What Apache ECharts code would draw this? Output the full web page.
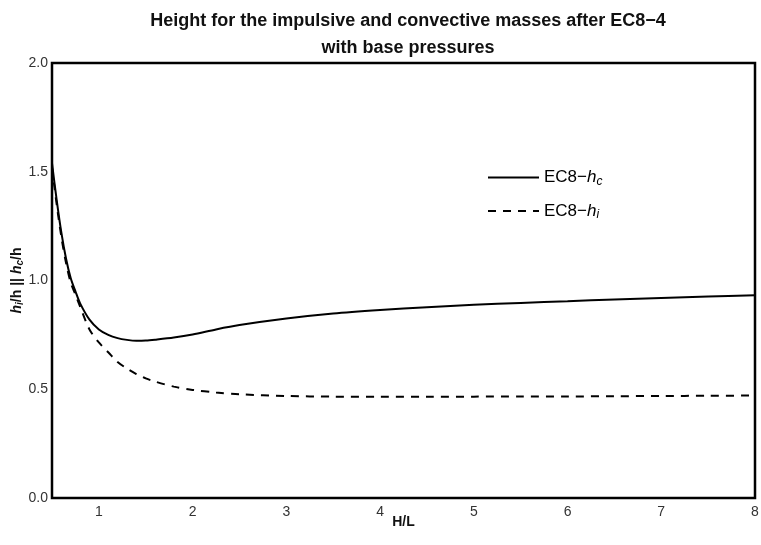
<!DOCTYPE html>
<html>
<head>
<meta charset="utf-8">
<script src="https://cdn.jsdelivr.net/npm/echarts@6/dist/echarts.min.js"></script>
<style>html,body{margin:0;padding:0;background:#fff}#c{width:761px;height:545px}</style>
</head>
<body>
<div id="c"></div>
<script>
const xValues = [0.5,0.55,0.6,0.65,0.7,0.75,0.8,0.9,1.0,1.1,1.2,1.3,1.4,1.5,1.6,1.8,2.0,2.25,2.5,3.0,3.5,4.0,4.5,5.0,5.5,6.0,6.5,7.0,7.5,8.0];
const hcValues = [1.54,1.37,1.22,1.10,1.01,0.95,0.895,0.82,0.775,0.75,0.735,0.727,0.723,0.724,0.728,0.738,0.752,0.775,0.795,0.825,0.848,0.864,0.877,0.888,0.897,0.905,0.913,0.92,0.926,0.932];
const hiValues = [1.52,1.35,1.20,1.08,0.99,0.935,0.88,0.775,0.715,0.67,0.625,0.595,0.57,0.55,0.535,0.512,0.497,0.485,0.477,0.469,0.466,0.465,0.465,0.466,0.467,0.467,0.468,0.469,0.47,0.471];
const xTickLabels = [1,2,3,4,5,6,7,8];
const yTickLabels = [0,0.5,1.0,1.5,2.0];
const seriesNames = ['EC8-hc','EC8-hi'];

const chart = echarts.init(document.getElementById('c'), null, {renderer:'canvas'});
const font = 'Liberation Sans, Arial, sans-serif';
chart.setOption({
  animation: false,
  textStyle: {fontFamily: font},
  title: {
    text: 'Height for the impulsive and convective masses after EC8\u22124\nwith base pressures',
    left: 403, textAlign: 'center', top: 3,
    textStyle: {fontFamily: font, fontSize: 18, fontWeight: 'bold', color: '#111', lineHeight: 27}
  },
  grid: {left: 52, right: 6, top: 63, bottom: 47, show: true, borderColor: '#000', borderWidth: 2.5,
         containLabel: false, outerBoundsMode: 'none'},
  legend: {
    orient: 'vertical', left: 482, top: 164, itemWidth: 51, itemHeight: 16, itemGap: 15,
    data: seriesNames,
    itemStyle: {opacity: 0},
    formatter: function(n){ return n === 'EC8-hc' ? '{t|EC8\u2212}{i|h}{s|c}' : '{t|EC8\u2212}{i|h}{s|i}'; },
    textStyle: {
      color: '#000', fontSize: 17, fontFamily: font,
      rich: {
        t: {fontSize: 17, fontFamily: font, color: '#000'},
        i: {fontSize: 17, fontFamily: font, fontStyle: 'italic', color: '#000'},
        s: {fontSize: 12, fontFamily: font, fontStyle: 'italic', color: '#000', verticalAlign: 'bottom', padding: [8,0,0,0]}
      }
    }
  },
  xAxis: {
    type: 'value', min: 0.5, max: 8,
    name: 'H/L', nameLocation: 'middle', nameGap: 17, nameMoveOverlap: false,
    nameTextStyle: {fontFamily: font, fontSize: 14, fontWeight: 'bold', color: '#111'},
    axisLine: {show: false}, axisTick: {show: false}, splitLine: {show: false},
    axisLabel: {customValues: xTickLabels, color: '#333', fontSize: 14, margin: 7, fontFamily: font}
  },
  yAxis: {
    type: 'value', min: 0, max: 2, interval: 0.5,
    name: '{i|h}{s|i}{b|/h || }{i|h}{s|c}{b|/h}', nameLocation: 'middle', nameGap: 27, nameMoveOverlap: false,
    nameTextStyle: {
      fontFamily: font, fontSize: 14, fontWeight: 'bold', color: '#111',
      rich: {
        i: {fontFamily: font, fontSize: 14, fontWeight: 'bold', fontStyle: 'italic', color: '#111'},
        b: {fontFamily: font, fontSize: 14, fontWeight: 'bold', color: '#111'},
        s: {fontFamily: font, fontSize: 10, fontWeight: 'bold', fontStyle: 'italic', color: '#111', verticalAlign: 'bottom', padding: [6,0,0,0]}
      }
    },
    axisLine: {show: false}, axisTick: {show: false}, splitLine: {show: false},
    axisLabel: {customValues: yTickLabels, color: '#333', fontSize: 14, margin: 4, fontFamily: font,
      formatter: function(v){ return v.toFixed(1); }}
  },
  series: [
    {name: seriesNames[0], type: 'line', smooth: 0.3, symbol: 'none', showSymbol: false,
     lineStyle: {color: '#000', width: 2, type: 'solid'}, itemStyle: {color: '#000'},
     data: xValues.map((x,i) => [x, hcValues[i]])},
    {name: seriesNames[1], type: 'line', smooth: 0.3, symbol: 'none', showSymbol: false,
     lineStyle: {color: '#000', width: 2, type: [8,7]}, itemStyle: {color: '#000'},
     data: xValues.map((x,i) => [x, hiValues[i]])}
  ]
});
</script>
</body>
</html>
